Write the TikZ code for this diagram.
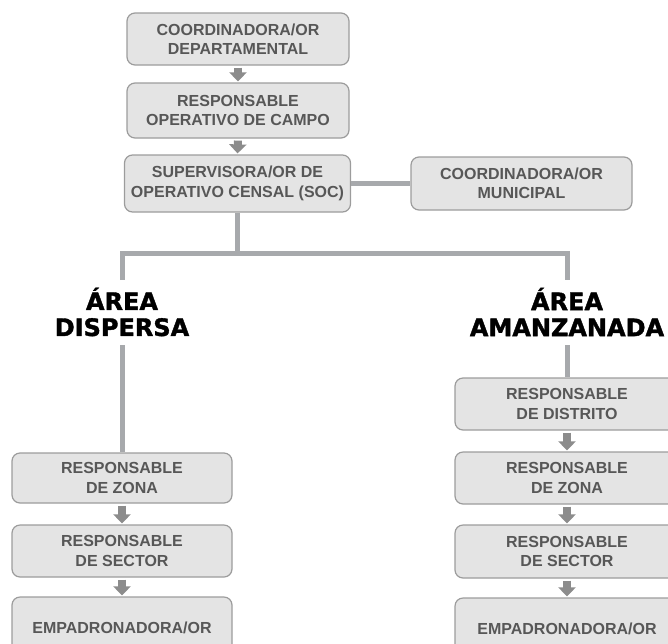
\documentclass[tikz,border=0pt]{standalone}
\usepackage{fontspec}
\setmainfont{Liberation Sans}
\newfontfamily\titlefont[FakeBold=1.6]{DejaVu Sans}
\usetikzlibrary{arrows.meta}
\definecolor{boxfill}{HTML}{E4E4E4}
\definecolor{boxline}{HTML}{9C9C9C}
\definecolor{boxtext}{HTML}{575757}
\definecolor{conngray}{HTML}{A7A9AC}
\definecolor{arrgray}{HTML}{8C8C8C}
\tikzset{
  orgbox/.style={rounded corners=8pt, draw=boxline, fill=boxfill, line width=1.2pt,
    minimum width=222pt, minimum height=52pt, align=center, text=boxtext,
    font=\fontsize{16pt}{19.5pt}\selectfont\bfseries, inner sep=0pt},
  areatitle/.style={align=center, text=black, inner sep=0pt,
    font=\fontsize{24pt}{26pt}\selectfont\titlefont\bfseries},
  conn/.style={draw=conngray, line width=5pt},
  downarrow/.style={draw=arrgray, line width=8pt, -{Triangle[width=17pt,length=9pt]},
    shorten <=2pt, shorten >=1pt}
}
\begin{document}
\begin{tikzpicture}[x=1pt,y=-1pt]
\useasboundingbox (0,0) rectangle (668,643);
\clip (0,0) rectangle (668,643);
% top chain
\node[orgbox] (dep) at (238,39) {COORDINADORA/OR\\DEPARTAMENTAL};
\node[orgbox, minimum height=55pt] (resp) at (238,110.5) {RESPONSABLE\\OPERATIVO DE CAMPO};
\node[orgbox, minimum height=57pt, minimum width=226pt] (soc) at (237.5,183.5) {SUPERVISORA/OR DE\\OPERATIVO CENSAL (SOC)};
\node[orgbox, minimum height=53pt, minimum width=221pt] (mun) at (521.5,183.5) {COORDINADORA/OR\\MUNICIPAL};
% titles
\node[areatitle] (disp) at (122,312) {ÁREA\\DISPERSA};
\node[areatitle] (amz) at (567,312) {ÁREA\\AMANZANADA};
% left column
\node[orgbox, minimum width=220pt, minimum height=50pt] (zonaL) at (122,478) {RESPONSABLE\\DE ZONA};
\node[orgbox, minimum width=220pt] (sectL) at (122,551) {RESPONSABLE\\DE SECTOR};
\node[orgbox, minimum width=220pt, minimum height=62pt] (empL) at (122,628) {EMPADRONADORA/OR};
% right column
\node[orgbox, minimum width=224pt] (distR) at (567,404) {RESPONSABLE\\DE DISTRITO};
\node[orgbox, minimum width=224pt] (zonaR) at (567,478) {RESPONSABLE\\DE ZONA};
\node[orgbox, minimum width=224pt, minimum height=53pt] (sectR) at (567,551.5) {RESPONSABLE\\DE SECTOR};
\node[orgbox, minimum width=224pt, minimum height=62pt] (empR) at (567,629) {EMPADRONADORA/OR};
% tree connectors
\coordinate (hub) at (237.5,253);
\coordinate (hubL) at (122,253);
\coordinate (hubR) at (567,253);
\coordinate (dtop) at (122,280);
\coordinate (atop) at (567,280);
\coordinate (dbot) at (122,345);
\coordinate (abot) at (567,345);
\draw[conn] (soc.south) -- (hub);
\draw[conn, line join=miter] (dtop) -- (hubL) -- (hubR) -- (atop);
\draw[conn] (soc.east) -- (mun.west);
\draw[conn] (dbot) -- (zonaL.north);
\draw[conn] (abot) -- (distR.north);
% arrows
\draw[downarrow] (dep.south) -- (resp.north);
\draw[downarrow] (resp.south) -- (soc.north);
\draw[downarrow] (zonaL.south) -- (sectL.north);
\draw[downarrow] (sectL.south) -- (empL.north);
\draw[downarrow] (distR.south) -- (zonaR.north);
\draw[downarrow] (zonaR.south) -- (sectR.north);
\draw[downarrow] (sectR.south) -- (empR.north);
\end{tikzpicture}
\end{document}
